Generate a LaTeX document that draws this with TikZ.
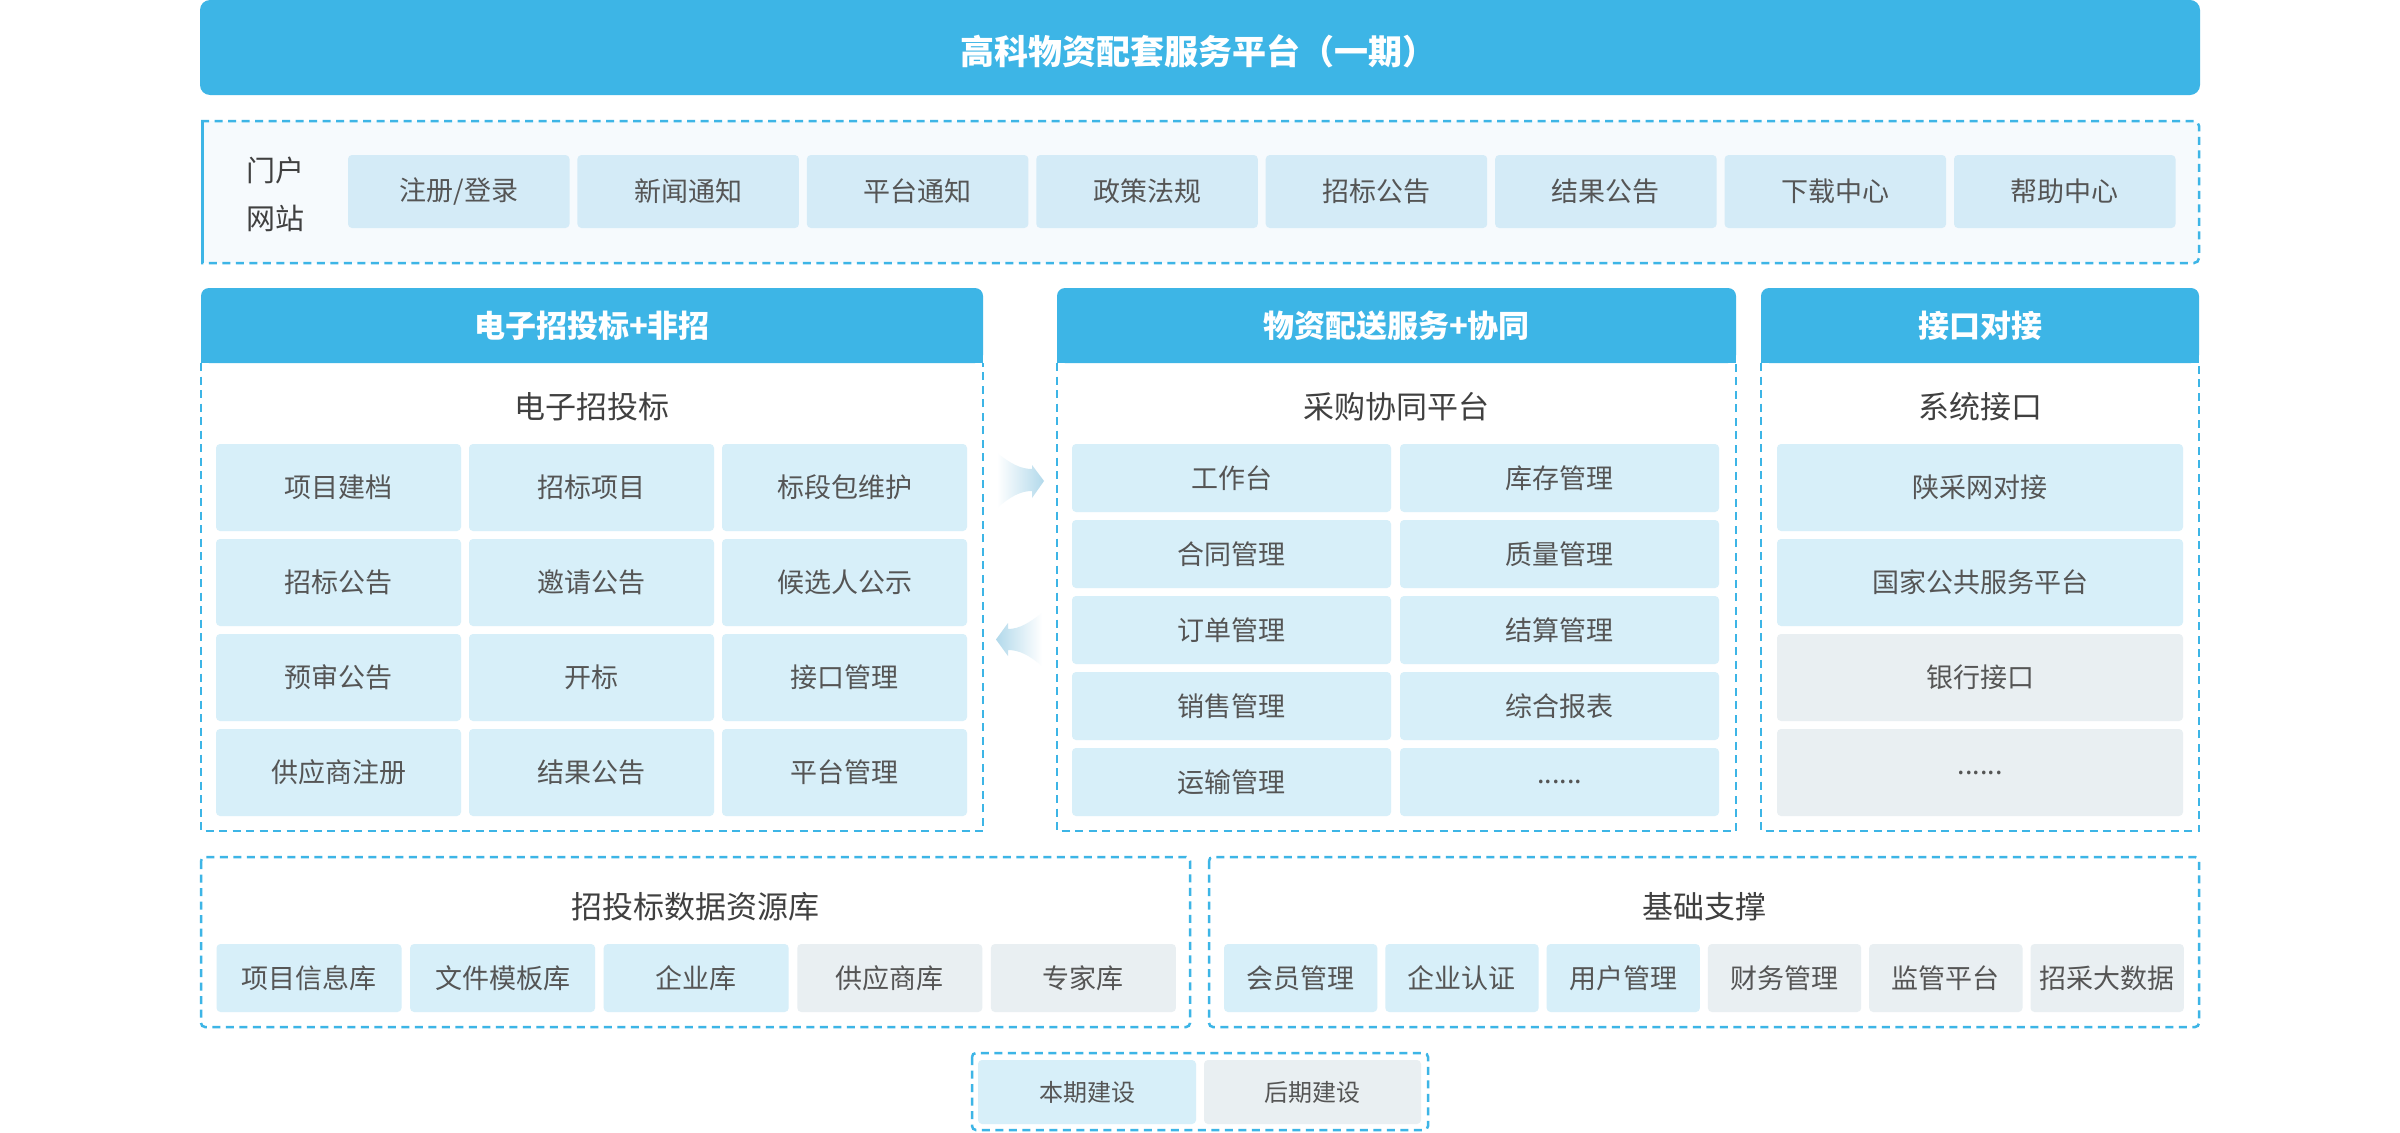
\documentclass[tikz,border=0pt]{standalone}
\usepackage{fontspec}
\setmainfont{Noto Sans CJK SC}
\usetikzlibrary{calc}
\definecolor{topblue}{RGB}{61,181,230}
\definecolor{cellblue}{RGB}{215,239,249}
\definecolor{portalcell}{RGB}{212,235,247}
\definecolor{cellgray}{RGB}{233,239,242}
\definecolor{portalbg}{RGB}{246,250,253}
\definecolor{txt}{RGB}{85,85,85}
\definecolor{subtxt}{RGB}{64,64,64}
\definecolor{arrowblue}{RGB}{178,217,235}
\newcommand\sixdots{......}
\newcommand\mypanel[5]{%
  \fill[topblue, rounded corners=8pt] (#1,288) rectangle (#2,363);
  \fill[topblue] (#1,330) rectangle (#2,363);
  \draw[dashline] (#1,363) -- (#1,831) -- (#2,831) -- (#2,363);
  \node[hdr] (#3h) at ({(#1+#2)/2},326) {#4};
  \node[sub] (#3s) at ({(#1+#2)/2},407) {#5};
}
\begin{document}
\begin{tikzpicture}[x=1pt,y=-1pt,
  dashline/.style={draw=topblue, line width=2.5pt, dash pattern=on 8pt off 5.5pt},
  cell/.style={rectangle, rounded corners=4pt, fill=cellblue, text=txt, inner sep=0pt, font=\fontsize{27}{32}\selectfont},
  cellg/.style={cell, fill=cellgray},
  pcell/.style={cell, fill=portalcell},
  leg/.style={cell, font=\fontsize{24}{28}\selectfont},
  legg/.style={leg, fill=cellgray},
  hdr/.style={text=white, inner sep=0pt, font=\fontsize{31}{36}\selectfont\bfseries},
  sub/.style={text=subtxt, inner sep=0pt, font=\fontsize{31}{36}\selectfont},
]
\useasboundingbox (0,0) rectangle (2400,1132);
\fill[white] (0,0) rectangle (2400,1132);

% top bar
\fill[topblue, rounded corners=10pt] (200,0) rectangle (2200,95);
\node[text=white, inner sep=0pt, font=\fontsize{34}{40}\selectfont\bfseries] (title) at (1198,51) {高科物资配套服务平台（一期）};

% portal
\fill[portalbg, rounded corners=5pt] (201,121) rectangle (2199,263);
\draw[dashline, rounded corners=5pt] (201,121) -- (2199,121) -- (2199,263) -- (201,263);
\draw[topblue, line width=3pt] (202.5,121) -- (202.5,263);
\node[text=subtxt, inner sep=0pt, align=center, font=\fontsize{29}{48}\selectfont] (portal) at (275.5,194) {门户\\网站};
\foreach \t [count=\i from 0] in {注册/登录,新闻通知,平台通知,政策法规,招标公告,结果公告,下载中心,帮助中心}
  \node[pcell, minimum width=221.5pt, minimum height=73pt] (por\i) at ({458.75+229.43*\i},191.5) {\t};

% three panels
\mypanel{201}{983}{pa}{电子招投标+非招}{电子招投标}
\mypanel{1057}{1736}{pb}{物资配送服务+协同}{采购协同平台}
\mypanel{1761}{2199}{pc}{接口对接}{系统接口}

\foreach \t [count=\k from 0] in {项目建档,招标项目,标段包维护,招标公告,邀请公告,候选人公示,预审公告,开标,接口管理,供应商注册,结果公告,平台管理} {
  \pgfmathtruncatemacro\cc{mod(\k,3)}
  \pgfmathtruncatemacro\rr{div(\k,3)}
  \node[cell, minimum width=245pt, minimum height=87pt] (a\k) at ({338.5+253*\cc},{487.5+95*\rr}) {\t};
}
\foreach \t [count=\k from 0] in {工作台,库存管理,合同管理,质量管理,订单管理,结算管理,销售管理,综合报表,运输管理,\sixdots} {
  \pgfmathtruncatemacro\cc{mod(\k,2)}
  \pgfmathtruncatemacro\rr{div(\k,2)}
  \node[cell, minimum width=319pt, minimum height=68pt] (b\k) at ({1231.5+328*\cc},{478+76*\rr}) {\t};
}
\node[cell, minimum width=406pt, minimum height=87pt] (c0) at (1980,487.5) {陕采网对接};
\node[cell, minimum width=406pt, minimum height=87pt] (c1) at (1980,582.5) {国家公共服务平台};
\node[cellg, minimum width=406pt, minimum height=87pt] (c2) at (1980,677.5) {银行接口};
\node[cellg, minimum width=406pt, minimum height=87pt] (c3) at (1980,772.5) {\sixdots};

% arrows between panels
\shade[left color=white, right color=arrowblue]
  (997,453) .. controls (1010,463) and (1020,469) .. (1032,469) -- (1032,465) -- (1044,481) -- (1032,498) -- (1032,491) .. controls (1020,491) and (1010,497) .. (997,508) -- cycle;
\shade[left color=arrowblue, right color=white]
  (1042,613) .. controls (1030,622) and (1020,629) .. (1008,629) -- (1008,623) -- (996,639.5) -- (1008,656) -- (1008,650) .. controls (1020,650) and (1030,656) .. (1042,666) -- cycle;

% bottom panels
\draw[dashline, rounded corners=4pt] (201,857) rectangle (1190,1027);
\node[sub] (dbt) at (695.5,907) {招投标数据资源库};
\foreach \t/\s [count=\k from 0] in {项目信息库/cell,文件模板库/cell,企业库/cell,供应商库/cellg,专家库/cellg}
  \node[\s, minimum width=185pt, minimum height=68pt] (d\k) at ({309+193.6*\k},978) {\t};

\draw[dashline, rounded corners=4pt] (1209,857) rectangle (2199,1027);
\node[sub] (jct) at (1704,907) {基础支撑};
\foreach \t/\s [count=\k from 0] in {会员管理/cell,企业认证/cell,用户管理/cell,财务管理/cellg,监管平台/cellg,招采大数据/cellg}
  \node[\s, minimum width=153.3pt, minimum height=68pt] (e\k) at ({1300.65+161.3*\k},978) {\t};

% legend
\draw[dashline, rounded corners=4pt] (972,1053) rectangle (1428,1130);
\node[leg, minimum width=218pt, minimum height=64pt] (l0) at (1087,1092) {本期建设};
\node[legg, minimum width=217pt, minimum height=64pt] (l1) at (1312.5,1092) {后期建设};
\end{tikzpicture}
\end{document}
